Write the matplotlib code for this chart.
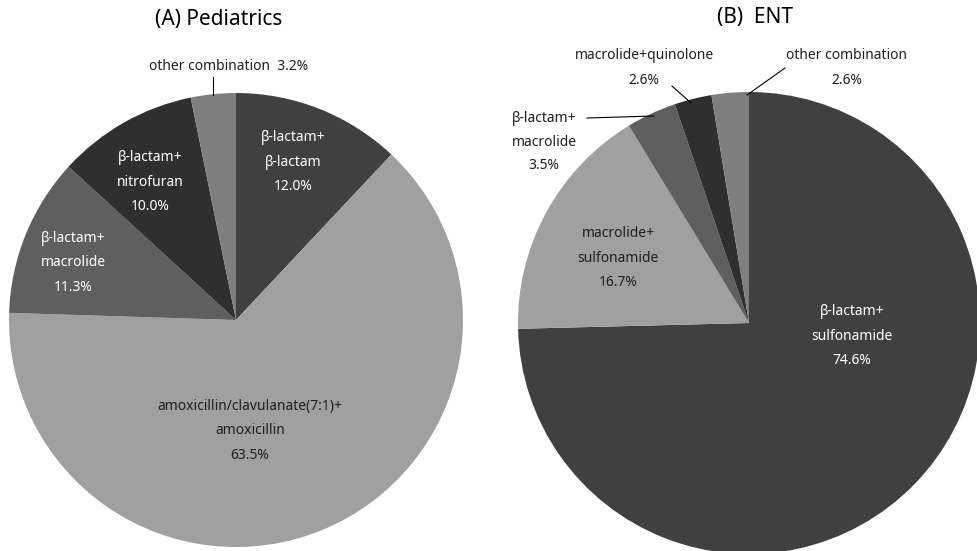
import matplotlib.pyplot as plt

plt.rcParams['font.family'] = ['Noto Sans', 'DejaVu Sans']

# data
ped_labels = ["β-lactam+\nβ-lactam", "amoxicillin/clavulanate(7:1)+\namoxicillin",
              "β-lactam+\nmacrolide", "β-lactam+\nnitrofuran", "other combination"]
ped_values = [12.0, 63.5, 11.3, 10.0, 3.2]

ent_labels = ["β-lactam+\nsulfonamide", "macrolide+\nsulfonamide",
              "β-lactam+\nmacrolide", "macrolide+quinolone", "other combination"]
ent_values = [74.6, 16.7, 3.5, 2.6, 2.6]

ped_colors = ["#404040", "#a0a0a0", "#5f5f5f", "#2f2f2f", "#7f7f7f"]
ent_colors = ["#404040", "#a0a0a0", "#5f5f5f", "#2f2f2f", "#7f7f7f"]

W, H = 978, 551
fig = plt.figure(figsize=(W / 100, H / 100), dpi=100)
ax = fig.add_axes([0, 0, 1, 1])
ax.set_xlim(0, W)
ax.set_ylim(0, H)
ax.set_aspect('equal')
ax.axis('off')


def py(y):
    # pixel row -> data y
    return H - y


ax.pie(ped_values, colors=ped_colors, startangle=90, counterclock=False,
       center=(236, py(320)), radius=227, wedgeprops=dict(linewidth=0), frame=True)
ax.pie(ent_values, colors=ent_colors, startangle=90, counterclock=False,
       center=(749, py(323)), radius=231, wedgeprops=dict(linewidth=0), frame=True)
ax.set_xlim(0, W)
ax.set_ylim(0, H)
ax.axis('off')

fs = 10
ls = 1.85

# pediatrics labels (x, y, text colour)
ped_pos = [(293, 162, 'white'), (250, 431, '#202020'), (73, 263, 'white'),
           (150, 182, 'white')]
for (x, y, c), lab, v in zip(ped_pos, ped_labels, ped_values):
    ax.text(x, py(y), f"{lab}\n{v:.1f}%", ha='center', va='center',
            color=c, fontsize=fs, linespacing=ls)
ax.text(229, py(66), f"{ped_labels[4]}  {ped_values[4]:.1f}%", ha='center',
        va='center', fontsize=fs, color='#202020')
ax.plot([213, 213], [py(77), py(95)], color='black', lw=0.8)

# ENT labels
ent_pos = [(852, 336, 'white'), (618, 258, '#202020')]
for (x, y, c), lab, v in zip(ent_pos, ent_labels, ent_values):
    ax.text(x, py(y), f"{lab}\n{v:.1f}%", ha='center', va='center',
            color=c, fontsize=fs, linespacing=ls)
ax.text(544, py(142), f"{ent_labels[2]}\n{ent_values[2]:.1f}%", ha='center',
        va='center', fontsize=fs, color='#202020', linespacing=1.75)
ax.plot([587, 654], [py(118), py(116)], color='black', lw=0.8)
ax.text(644, py(68), f"{ent_labels[3]}\n{ent_values[3]:.1f}%", ha='center',
        va='center', fontsize=fs, color='#202020', linespacing=1.95)
ax.plot([672, 691], [py(86), py(103)], color='black', lw=0.8)
ax.text(847, py(68), f"{ent_labels[4]}\n{ent_values[4]:.1f}%", ha='center',
        va='center', fontsize=fs, color='#202020', linespacing=1.95)
ax.plot([785, 747], [py(68), py(95)], color='black', lw=0.8)

# titles
ax.text(219, py(20), "(A) Pediatrics", ha='center', va='center', fontsize=15)
ax.text(755, py(18), "(B)  ENT", ha='center', va='center', fontsize=15)

fig.savefig("out.png", dpi=100, facecolor='white')
